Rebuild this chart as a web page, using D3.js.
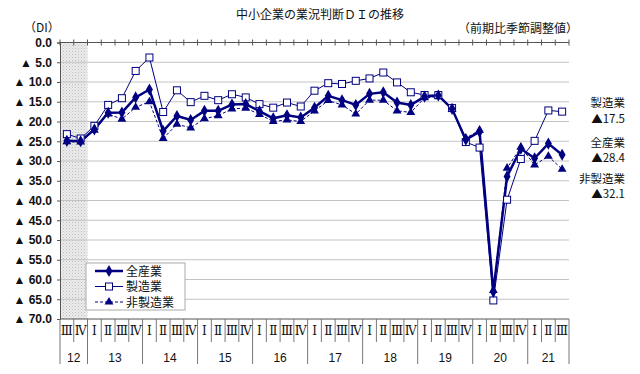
<!DOCTYPE html>
<html lang="ja">
<head>
<meta charset="UTF-8">
<script src="https://d3js.org/d3.v7.min.js"></script>
<style>
  body { margin: 0; background: #fff; }
  svg { display: block; font-family: "Noto Sans CJK JP", "Noto Sans", sans-serif; }
</style>
</head>
<body>
<div id="chart"></div>
<script>
// quarters from 2012 III to 2021 III
var years = ["12", "13", "14", "15", "16", "17", "18", "19", "20", "21"];
var quarterNames = ["Ⅰ", "Ⅱ", "Ⅲ", "Ⅳ"];
var quarters = [
  "12-3", "12-4",
  "13-1", "13-2", "13-3", "13-4",
  "14-1", "14-2", "14-3", "14-4",
  "15-1", "15-2", "15-3", "15-4",
  "16-1", "16-2", "16-3", "16-4",
  "17-1", "17-2", "17-3", "17-4",
  "18-1", "18-2", "18-3", "18-4",
  "19-1", "19-2", "19-3", "19-4",
  "20-1", "20-2", "20-3", "20-4",
  "21-1", "21-2", "21-3"
];
// DI values (negative, drawn as magnitude with ▲)
var allIndustry = [24.9, 25.0, 22.0, 17.8, 17.7, 13.9, 11.9, 22.4, 18.6, 19.6,
  17.3, 17.3, 15.7, 15.6, 17.4, 19.2, 18.4, 19.0, 16.5, 13.5, 14.6, 15.8,
  13.0, 12.6, 15.2, 15.8, 13.7, 13.4, 16.8, 24.6, 22.6, 63.1, 33.9, 26.9,
  29.3, 25.6, 28.4];
var manufacturing = [23.2, 24.3, 21.1, 15.8, 14.1, 7.2, 3.8, 17.6, 12.1, 15.1,
  13.5, 14.6, 13.1, 13.9, 15.6, 16.5, 15.2, 16.2, 12.2, 10.3, 10.5, 9.7,
  9.1, 7.6, 10.1, 12.6, 13.3, 13.3, 16.6, 25.2, 26.6, 65.3, 39.8, 29.5,
  24.9, 17.2, 17.5];
var nonManufacturing = [25.1, 25.2, 22.2, 18.1, 19.4, 16.4, 15.0, 24.3, 20.7, 21.6,
  19.3, 18.5, 16.8, 16.6, 18.2, 20.0, 19.6, 20.0, 17.3, 14.7, 15.8, 18.1,
  14.6, 14.6, 17.3, 17.7, 14.0, 13.7, 16.9, 24.2, 22.2, 62.8, 31.8, 26.5,
  31.0, 28.8, 32.1];
var yTicks = [0, 5, 10, 15, 20, 25, 30, 35, 40, 45, 50, 55, 60, 65, 70];
var shadedQuarters = ["12-3", "12-4"];
var seriesNames = ["全産業", "製造業", "非製造業"];
var endLabels = [["製造業", "▲17.5"], ["全産業", "▲28.4"], ["非製造業", "▲32.1"]];

var W = 640, H = 374;
var plotL = 60, plotR = 569, plotT = 42.5, plotB = 319;
var navy = "#000080";

var svg = d3.select("#chart").append("svg")
  .attr("width", W).attr("height", H);

var defs = svg.append("defs");
var pat = defs.append("pattern").attr("id", "dots")
  .attr("width", 3).attr("height", 3).attr("patternUnits", "userSpaceOnUse");
pat.append("rect").attr("width", 3).attr("height", 3).attr("fill", "#ececec");
pat.append("rect").attr("width", 1).attr("height", 1).attr("fill", "#bdbdbd");
pat.append("rect").attr("x", 1.5).attr("y", 1.5).attr("width", 1).attr("height", 1).attr("fill", "#cfcfcf");

var x = d3.scaleBand().domain(quarters).range([plotL, plotR]);
var y = d3.scaleLinear().domain([0, 70]).range([plotT, plotB]);
var cx = function(q) { return x(q) + x.bandwidth() / 2; };

// shaded period
svg.append("rect")
  .attr("x", x(shadedQuarters[0]))
  .attr("y", y(0))
  .attr("width", x.bandwidth() * shadedQuarters.length)
  .attr("height", y(70) - y(0))
  .attr("fill", "url(#dots)");

// gridlines
svg.append("g").selectAll("line")
  .data(yTicks.filter(function(d) { return d > 0 && d < 70; }))
  .enter().append("line")
  .attr("x1", plotL).attr("x2", plotR)
  .attr("y1", function(d) { return y(d); }).attr("y2", function(d) { return y(d); })
  .attr("stroke", "#c4c4c4").attr("stroke-width", 1);

// y axis
var yAxis = svg.append("g")
  .attr("transform", "translate(" + plotL + ",0)")
  .call(d3.axisLeft(y).tickValues(yTicks).tickSize(3)
    .tickFormat(function(d) { return d === 0 ? "0.0" : "▲ " + d.toFixed(1); }));
yAxis.select(".domain").attr("stroke", "#555");
yAxis.selectAll(".tick line").attr("stroke", "#555");
yAxis.selectAll("text").attr("font-size", 12).attr("fill", "#111")
  .attr("font-weight", "bold").attr("x", -8).style("font-family", "Arial, 'Liberation Sans', sans-serif");

// top axis line (0) with crossing ticks
svg.append("line").attr("x1", plotL).attr("x2", plotR)
  .attr("y1", y(0)).attr("y2", y(0)).attr("stroke", "#555");
var bounds = quarters.map(function(q) { return x(q); }).concat([plotR]);
svg.append("g").selectAll("line").data(bounds).enter().append("line")
  .attr("x1", function(d) { return d; }).attr("x2", function(d) { return d; })
  .attr("y1", y(0) - 3).attr("y2", y(0) + 3).attr("stroke", "#555");

// bottom axis line
svg.append("line").attr("x1", plotL).attr("x2", plotR)
  .attr("y1", y(70)).attr("y2", y(70)).attr("stroke", "#555");

// quarter separators and labels
svg.append("g").selectAll("line").data(bounds).enter().append("line")
  .attr("x1", function(d) { return d; }).attr("x2", function(d) { return d; })
  .attr("y1", y(70))
  .attr("y2", function(d, i) {
    var isYear = i === bounds.length - 1 || i === 0 || quarters[i].slice(3) === "1";
    return isYear ? 364 : 342;
  })
  .attr("stroke", "#777");
svg.append("g").selectAll("text").data(quarters).enter().append("text")
  .attr("x", cx).attr("y", 335)
  .attr("text-anchor", "middle").attr("font-size", 12).attr("fill", "#111")
  .style("font-family", "'DejaVu Serif', serif")
  .each(function(q) {
    var n = +q.slice(3);
    if (n >= 3) d3.select(this).attr("textLength", 12).attr("lengthAdjust", "spacingAndGlyphs");
  })
  .text(function(q) { return quarterNames[+q.slice(3) - 1]; });

// year labels
svg.append("g").selectAll("text").data(years).enter().append("text")
  .attr("x", function(yr) {
    var qs = quarters.filter(function(q) { return q.slice(0, 2) === yr; });
    return (x(qs[0]) + x(qs[qs.length - 1]) + x.bandwidth()) / 2;
  })
  .attr("y", 362).attr("text-anchor", "middle").attr("font-size", 12).attr("fill", "#111")
  .style("font-family", "Arial, 'Liberation Sans', sans-serif")
  .text(function(d) { return d; });

// lines
var line = function(vals) {
  return d3.line().x(function(d, i) { return cx(quarters[i]); })
    .y(function(d) { return y(d); })(vals);
};
svg.append("path").attr("d", line(nonManufacturing)).attr("fill", "none")
  .attr("stroke", navy).attr("stroke-width", 1).attr("stroke-dasharray", "3,2");
svg.append("path").attr("d", line(manufacturing)).attr("fill", "none")
  .attr("stroke", navy).attr("stroke-width", 1);
svg.append("path").attr("d", line(allIndustry)).attr("fill", "none")
  .attr("stroke", navy).attr("stroke-width", 2.5);

// markers
var tri = d3.symbol().type(d3.symbolTriangle).size(34);
var dia = d3.symbol().type(d3.symbolDiamond).size(42);
svg.append("g").selectAll("path").data(nonManufacturing).enter().append("path")
  .attr("d", tri)
  .attr("transform", function(d, i) { return "translate(" + cx(quarters[i]) + "," + y(d) + ")"; })
  .attr("fill", navy);
svg.append("g").selectAll("rect").data(manufacturing).enter().append("rect")
  .attr("x", function(d, i) { return cx(quarters[i]) - 3.5; })
  .attr("y", function(d) { return y(d) - 3.5; })
  .attr("width", 7).attr("height", 7)
  .attr("fill", "#fff").attr("stroke", navy).attr("stroke-width", 1);
svg.append("g").selectAll("path").data(allIndustry).enter().append("path")
  .attr("d", dia)
  .attr("transform", function(d, i) { return "translate(" + cx(quarters[i]) + "," + y(d) + ")"; })
  .attr("fill", navy);

// legend
var lg = svg.append("g");
lg.append("rect").attr("x", 86).attr("y", 263).attr("width", 99).attr("height", 47)
  .attr("fill", "#fff").attr("stroke", "#aaa");
var rows = [271, 286.5, 302];
seriesNames.forEach(function(name, i) {
  var ry = rows[i];
  var l = lg.append("line").attr("x1", 95).attr("x2", 123).attr("y1", ry).attr("y2", ry)
    .attr("stroke", navy);
  if (i === 0) {
    l.attr("stroke-width", 2.5);
    lg.append("path").attr("d", dia).attr("transform", "translate(109," + ry + ")").attr("fill", navy);
  } else if (i === 1) {
    lg.append("rect").attr("x", 105.5).attr("y", ry - 3.5).attr("width", 7).attr("height", 7)
      .attr("fill", "#fff").attr("stroke", navy);
  } else {
    l.attr("stroke-dasharray", "3,2");
    lg.append("path").attr("d", tri).attr("transform", "translate(109," + ry + ")").attr("fill", navy);
  }
  lg.append("text").attr("x", 126).attr("y", ry + 4.5).attr("font-size", 12).attr("fill", "#111")
    .text(name);
});

// titles
svg.append("text").attr("x", 320).attr("y", 19).attr("text-anchor", "middle")
  .attr("font-size", 12).attr("fill", "#111").text("中小企業の業況判断ＤＩの推移");
svg.append("text").attr("x", 24).attr("y", 32).attr("font-size", 12).attr("fill", "#111")
  .text("（DI）");
svg.append("text").attr("x", 578).attr("y", 33).attr("text-anchor", "end")
  .attr("font-size", 12).attr("fill", "#111").text("（前期比季節調整値）");

// end labels
var endY = [[107, 123], [147, 162], [183, 198]];
endLabels.forEach(function(pair, i) {
  svg.append("text").attr("x", 625).attr("y", endY[i][0]).attr("text-anchor", "end")
    .attr("font-size", 11.5).attr("fill", "#111").text(pair[0]);
  svg.append("text").attr("x", 625).attr("y", endY[i][1]).attr("text-anchor", "end")
    .attr("font-size", 11.5).attr("fill", "#111").text(pair[1]);
});
</script>
</body>
</html>
